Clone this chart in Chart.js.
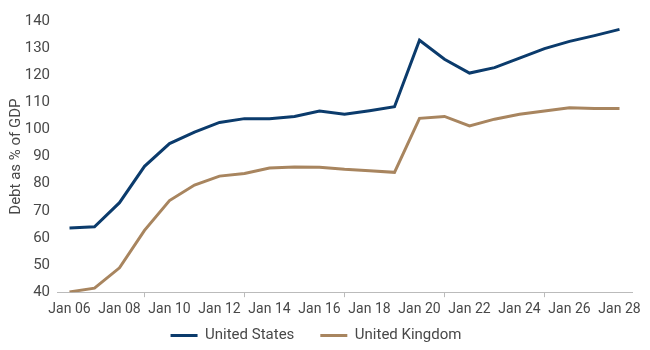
<!DOCTYPE html>
<html>
<head>
<meta charset="utf-8">
<script src="https://cdn.jsdelivr.net/npm/chart.js@4.4.0/dist/chart.umd.min.js"></script>
<style>
  html, body { margin: 0; padding: 0; background: #fff; }
  #wrap { width: 650px; height: 350px; }
</style>
</head>
<body>
<div id="wrap"><canvas id="debtChart"></canvas></div>
<script>
const years = ['Jan 06', 'Jan 07', 'Jan 08', 'Jan 09', 'Jan 10', 'Jan 11', 'Jan 12', 'Jan 13',
  'Jan 14', 'Jan 15', 'Jan 16', 'Jan 17', 'Jan 18', 'Jan 19', 'Jan 20', 'Jan 21', 'Jan 22',
  'Jan 23', 'Jan 24', 'Jan 25', 'Jan 26', 'Jan 27', 'Jan 28'];
const usDebt = [63.7, 64.1, 73.0, 86.4, 94.8, 99.0, 102.6, 104.0, 104.0, 104.8, 106.8, 105.6,
  106.9, 108.4, 132.9, 125.9, 120.8, 122.8, 126.3, 129.8, 132.5, 134.6, 136.9];
const ukDebt = [40.1, 41.5, 49.0, 62.8, 73.8, 79.5, 82.8, 83.8, 85.8, 86.2, 86.1, 85.3,
  84.8, 84.2, 104.1, 104.8, 101.3, 103.8, 105.6, 106.8, 108.0, 107.7, 107.7];
const yTicks = { min: 40, max: 140, step: 10 };

const navy = '#0b3b6c';
const tan = '#a8855f';
const textGrey = '#484848';
const font = { family: 'Roboto', size: 15 };

// legend keeps wide gaps between items but sits closer to the axis
const legendNudge = {
  id: 'legendNudge',
  afterLayout(chart) {
    chart.legend.top -= 20;
    chart.legend.bottom -= 20;
  }
};

const ctx = document.getElementById('debtChart').getContext('2d');
new Chart(ctx, {
  type: 'line',
  data: {
    labels: years,
    datasets: [{
      label: 'United States',
      data: usDebt,
      borderColor: navy,
      backgroundColor: navy,
      borderWidth: 3,
      pointRadius: 0,
      tension: 0
    }, {
      label: 'United Kingdom',
      data: ukDebt,
      borderColor: tan,
      backgroundColor: tan,
      borderWidth: 3,
      pointRadius: 0,
      tension: 0
    }]
  },
  options: {
    responsive: true,
    maintainAspectRatio: false,
    animation: false,
    layout: { padding: { top: 21, right: 18, left: 0, bottom: -23 } },
    plugins: {
      tooltip: { enabled: false },
      legend: {
        position: 'bottom',
        labels: {
          usePointStyle: true,
          pointStyle: 'line',
          pointStyleWidth: 27,
          boxHeight: 3,
          padding: 26,
          color: textGrey,
          font: font
        }
      }
    },
    scales: {
      x: {
        offset: true,
        grid: {
          offset: true,
          drawOnChartArea: false,
          drawTicks: true,
          tickLength: 5,
          color: '#bbbbbb'
        },
        border: { color: '#bbbbbb' },
        ticks: {
          autoSkip: true,
          autoSkipPadding: 0,
          maxTicksLimit: 12,
          maxRotation: 0,
          padding: 4,
          color: textGrey,
          font: { family: 'Roboto', size: 14 }
        }
      },
      y: {
        min: yTicks.min,
        max: yTicks.max,
        afterFit: scale => { scale.width = 57; },
        grid: { display: false, drawTicks: false },
        border: { display: false },
        ticks: {
          stepSize: yTicks.step,
          padding: 7,
          color: textGrey,
          font: font
        },
        title: {
          display: true,
          text: 'Debt as % of GDP',
          color: textGrey,
          padding: { top: 7, bottom: 0 },
          font: font
        }
      }
    }
  },
  plugins: [legendNudge]
});
</script>
</body>
</html>
